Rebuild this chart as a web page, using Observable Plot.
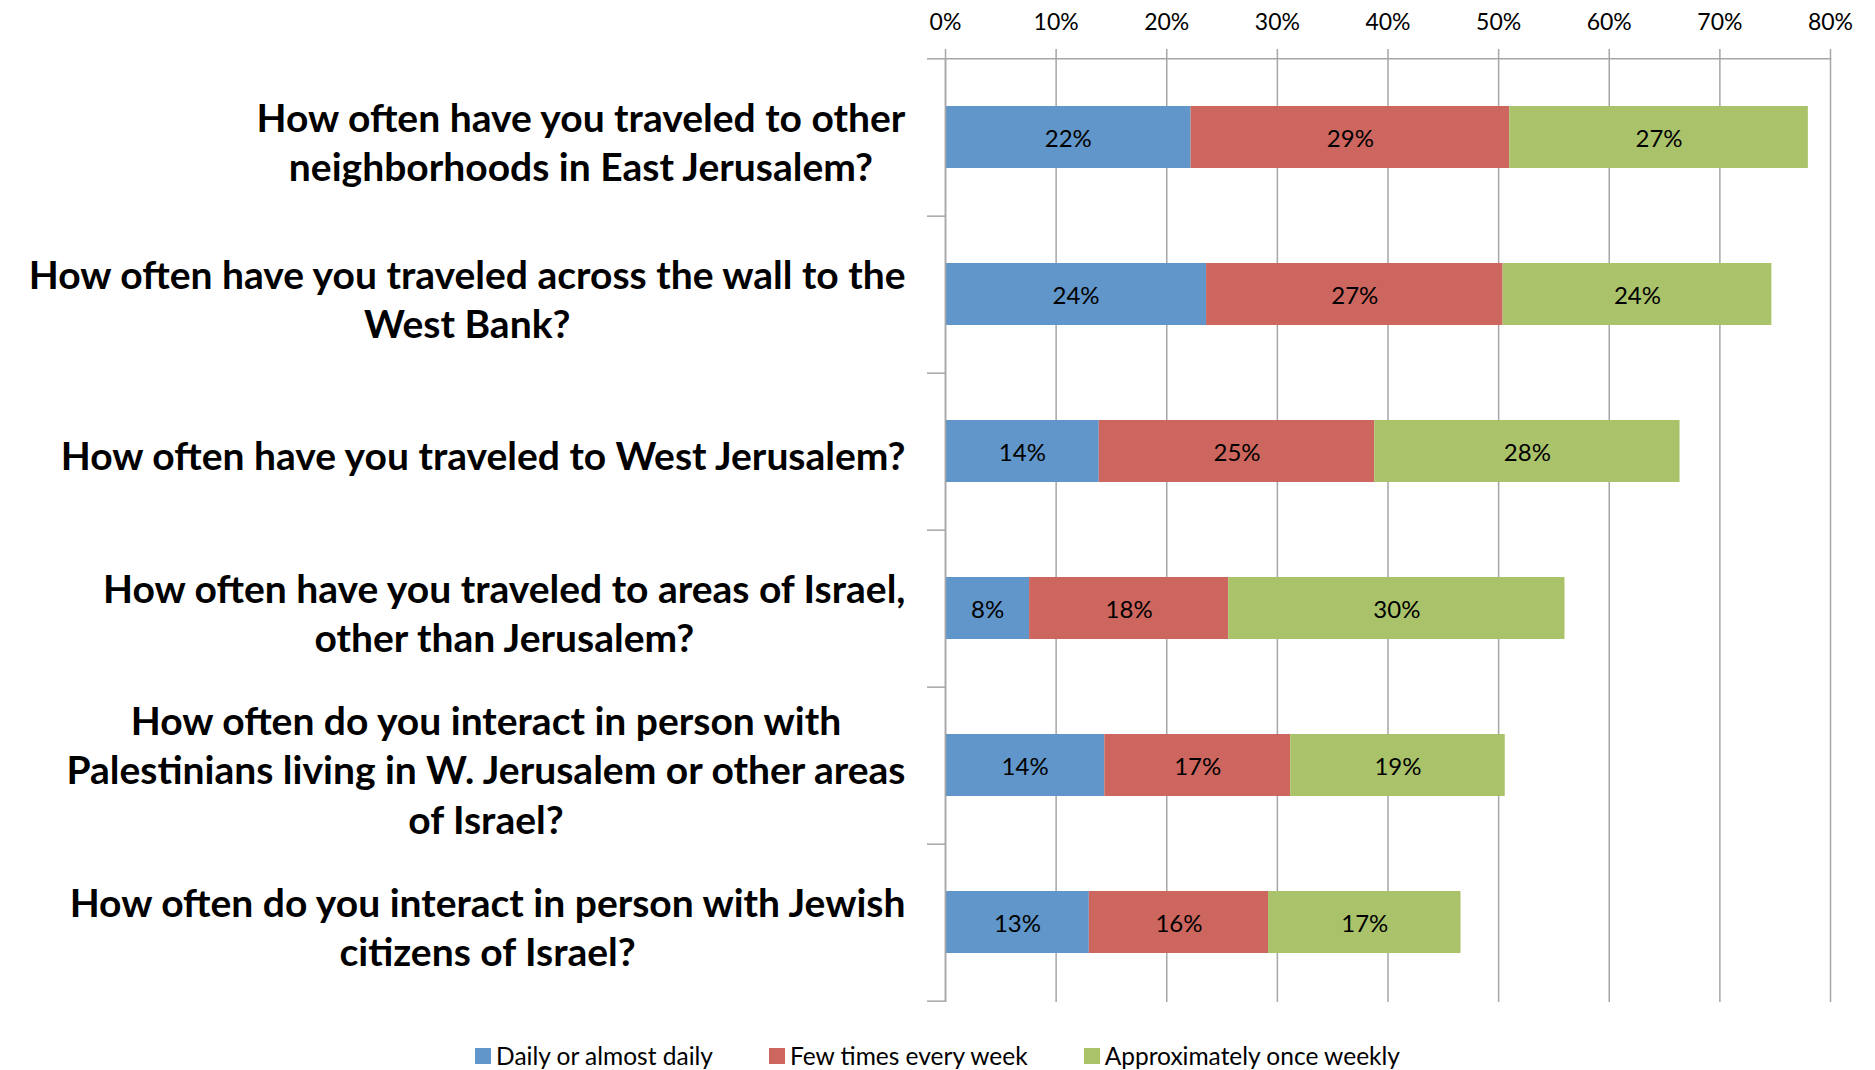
<!DOCTYPE html>
<html><head><meta charset="utf-8">
<script src="https://cdn.jsdelivr.net/npm/d3@7"></script>
<script src="https://cdn.jsdelivr.net/npm/@observablehq/plot@0.6"></script>
<style>
body{margin:0;background:#fff;font-family:Lato,sans-serif;}
#legend{display:flex;justify-content:center;gap:56px;margin-top:3px;font-size:24.5px;line-height:26px;color:#000}
.item{display:flex;align-items:center}
.sw{width:16px;height:16px;margin-right:5px}
</style></head><body>
<div id="chart"></div>
<div id="legend"></div>
<script>
const questions = [
  "How often have you traveled to other\nneighborhoods in East Jerusalem?",
  "How often have you traveled across the wall to the\nWest Bank?",
  "How often have you traveled to West Jerusalem?",
  "How often have you traveled to areas of Israel,\nother than Jerusalem?",
  "How often do you interact in person with\nPalestinians living in W. Jerusalem or other areas\nof Israel?",
  "How often do you interact in person with Jewish\ncitizens of Israel?"
];
const series = ["Daily or almost daily", "Few times every week", "Approximately once weekly"];
const colors = ["#6096c9", "#cd665f", "#aac36b"];
const daily = [22.2, 23.6, 13.9, 7.6, 14.4, 13.0];
const fewTimes = [28.8, 26.8, 24.9, 18.0, 16.8, 16.2];
const onceWeekly = [27.0, 24.3, 27.6, 30.4, 19.4, 17.4];
const xTicks = [0, 10, 20, 30, 40, 50, 60, 70, 80];

const data = [];
questions.forEach((q, i) => {
  [daily, fewTimes, onceWeekly].forEach((arr, j) => data.push({question: q, series: series[j], value: arr[i]}));
});

const W = 1875, H = 1040, mt = 58, mb = 38, ml = 945, mr = 45;
const step = (H - mt - mb) / questions.length;
const grid = "#a6a6a6";

const chart = Plot.plot({
  width: W, height: H, marginTop: mt, marginBottom: mb, marginLeft: ml, marginRight: mr,
  style: {fontFamily: "Lato, sans-serif", background: "#fff", overflow: "visible", color: "#000"},
  x: {domain: [0, 80], axis: null},
  y: {domain: questions, paddingInner: 0.605, paddingOuter: 0.3025, axis: null},
  color: {domain: series, range: colors},
  marks: [
    Plot.gridX(xTicks, {stroke: grid, strokeOpacity: 1, strokeWidth: 1.5}),
    Plot.axisX(xTicks, {anchor: "top", label: null, tickSize: 10, tickPadding: 19, stroke: grid, strokeWidth: 1.5, strokeOpacity: 1,
      tickFormat: d => d + "%", fontSize: 23, fill: "#000"}),
    Plot.barX(data, Plot.stackX({y: "question", x: "value", fill: "series"})),
    Plot.text(data, Plot.stackX({y: "question", x: "value", text: d => Math.round(d.value) + "%", fontSize: 24, dy: 2, fill: "#000"})),
    Plot.ruleX([0], {stroke: grid, strokeWidth: 1.5}),
    Plot.gridY([questions[0]], {dy: -step / 2, stroke: grid, strokeOpacity: 1, strokeWidth: 1.5}),
    Plot.axisY([questions[0]], {anchor: "left", label: null, tickSize: 18, text: null, dy: -step / 2, stroke: grid, strokeWidth: 1.5, strokeOpacity: 1}),
    Plot.axisY(questions, {anchor: "left", label: null, tickSize: 18, text: null, dy: step / 2, stroke: grid, strokeWidth: 1.5, strokeOpacity: 1}),
    Plot.text(questions, {y: d => d, frameAnchor: "left", textAnchor: "end", dx: -40, dy: 3, text: d => d,
      fontSize: 39, fontWeight: "bold", lineHeight: 1.28, fill: "#000", className: "qlabels"})
  ]
});
document.getElementById("chart").append(chart);

// center-align lines of each multi-line label within its right-aligned block
chart.querySelectorAll(".qlabels text").forEach(t => {
  const spans = t.querySelectorAll("tspan");
  if (!spans.length) return;
  const w = t.getBBox().width;
  t.setAttribute("text-anchor", "middle");
  spans.forEach(s => s.setAttribute("x", (parseFloat(s.getAttribute("x")) || 0) - w / 2));
});

const legend = document.getElementById("legend");
series.forEach((s, i) => {
  const item = document.createElement("div");
  item.className = "item";
  const sw = document.createElement("span");
  sw.className = "sw";
  sw.style.background = colors[i];
  item.append(sw, document.createTextNode(s));
  legend.append(item);
});
</script>
</body></html>
